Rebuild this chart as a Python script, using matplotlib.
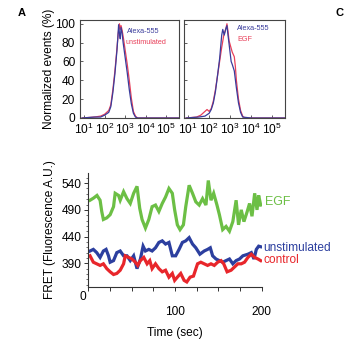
import numpy as np
import matplotlib
matplotlib.use("Agg")
import matplotlib.pyplot as plt
from matplotlib.ticker import FixedLocator, MultipleLocator, FixedFormatter

plt.rcParams['font.family'] = ['Liberation Sans', 'DejaVu Sans']
plt.rcParams['mathtext.fontset'] = 'custom'
plt.rcParams['mathtext.rm'] = 'Liberation Sans'
plt.rcParams['mathtext.it'] = 'Liberation Sans:italic'

# ---------------- Histogram data (log10 of intensity, normalized %) -------------
left_blue_log = [0.9, 1.5, 1.8, 2.0, 2.2, 2.3, 2.4, 2.5, 2.6, 2.65, 2.68, 2.72, 2.76, 2.8, 2.85, 2.9, 3.0, 3.1, 3.2, 3.3, 3.4, 3.5, 3.6, 4.0, 5.0, 5.6]
left_blue_val = [0, 1, 1, 3, 6, 12, 27, 47, 72, 88, 99, 90, 84, 96, 90, 80, 64, 48, 30, 15, 5, 1, 0, 0, 0, 0]
left_red_log = [0.9, 1.5, 1.8, 2.0, 2.2, 2.3, 2.4, 2.5, 2.6, 2.66, 2.72, 2.76, 2.8, 2.86, 2.92, 3.0, 3.1, 3.2, 3.3, 3.4, 3.5, 3.6, 4.0, 5.0, 5.6]
left_red_val = [0, 1, 2, 4, 8, 14, 30, 50, 74, 90, 100, 94, 98, 92, 84, 72, 57, 40, 21, 7, 2, 0, 0, 0, 0]

right_blue_log = [0.9, 1.5, 1.8, 2.0, 2.1, 2.2, 2.3, 2.4, 2.5, 2.6, 2.65, 2.72, 2.8, 2.85, 2.9, 2.97, 3.05, 3.1, 3.2, 3.3, 3.4, 3.5, 3.6, 4.0, 5.6]
right_blue_val = [0, 1, 2, 5, 9, 16, 28, 45, 63, 88, 94, 88, 95, 98, 88, 75, 60, 57, 50, 32, 16, 6, 1, 0, 0]
right_red_log = [0.9, 1.4, 1.6, 1.8, 1.9, 2.0, 2.1, 2.2, 2.3, 2.4, 2.5, 2.6, 2.7, 2.8, 2.85, 2.9, 2.95, 3.0, 3.1, 3.2, 3.25, 3.3, 3.4, 3.5, 3.6, 3.7, 4.0, 5.6]
right_red_val = [0, 1, 3, 7, 9, 7, 10, 18, 30, 45, 60, 75, 88, 95, 100, 92, 82, 78, 70, 65, 55, 40, 20, 8, 2, 0, 0, 0]

hist_yticks = [0, 20, 40, 60, 80, 100]
hist_xticks_exp = [1, 2, 3, 4, 5]

# ---------------- FRET time series ----------------
egf_t = [2, 6, 10, 13.6, 15.5, 17.4, 21.3, 25.2, 29.1, 31.0, 34.9, 36.8, 40.7, 44.6, 48.4, 52.3, 56.2, 59.3,
         62.0, 65.9, 69.8, 73.6, 77.5, 81.4, 85.3, 89.1, 93.0, 96.9, 99.6, 102.7, 105.8, 109.7, 112.4, 116.3,
         120.2, 124.0, 127.9, 131.8, 135.7, 138.4, 141.5, 144.6, 148.4, 151.2, 155.0, 158.9, 162.8, 166.7,
         170.5, 173.3, 176.4, 179.5, 183.3, 186.0, 188.8, 191.9, 194.6, 196.5, 198.8]
egf_v = [508, 512, 517, 508, 487, 472, 475, 481, 496, 521, 517, 508, 524, 511, 502, 521, 534, 493,
         472, 456, 472, 496, 499, 487, 502, 514, 530, 521, 490, 462, 453, 462, 496, 536,
         521, 505, 499, 511, 499, 545, 508, 521, 499, 481, 453, 459, 450, 468,
         508, 462, 490, 468, 487, 502, 478, 521, 490, 517, 499]

unst_t = [2, 5.8, 9.7, 13.6, 17.4, 20.5, 23.3, 25.2, 29.1, 32.9, 36.8, 40.7, 44.6, 48.4, 52.3, 56.2, 60.1,
          63.2, 65.9, 69.8, 73.6, 77.5, 81.4, 85.3, 89.1, 93.0, 96.9, 100.8, 104.7, 108.5, 112.4, 116.3,
          120.2, 124.0, 128.7, 133.7, 137.6, 140.7, 143.4, 147.3, 151.2, 155.0, 158.9, 162.8, 166.7, 170.5,
          174.4, 178.3, 184.1, 188.0, 191.1, 193.8, 196.5, 198.8]
unst_v = [413, 416, 410, 401, 413, 416, 404, 392, 395, 410, 413, 404, 404, 395, 404, 380, 398,
          422, 413, 416, 413, 419, 429, 432, 426, 429, 404, 404, 416, 429, 432, 438,
          426, 419, 407, 413, 416, 419, 404, 398, 395, 392, 395, 398, 389, 395,
          398, 404, 407, 410, 398, 416, 422, 421]

ctrl_t = [2, 5.8, 9.7, 13.6, 17.4, 21.3, 25.2, 29.1, 32.9, 36.8, 40.7, 42.6, 46.5, 50.4, 54.3, 57.0, 60.1,
          64.0, 67.8, 70.9, 73.6, 77.5, 81.4, 85.3, 89.1, 93.0, 96.9, 99.6, 102.7, 106.6, 110.5, 113.6,
          117.4, 121.3, 126.0, 129.8, 133.7, 137.6, 141.5, 145.3, 149.2, 153.1, 156.2, 160.1, 164.7, 168.6,
          172.5, 176.4, 180.2, 184.1, 188.0, 191.9, 195.7, 198.8]
ctrl_v = [404, 392, 389, 386, 389, 380, 374, 369, 371, 377, 389, 404, 401, 398, 392, 386, 395,
          401, 389, 395, 380, 389, 380, 374, 377, 364, 371, 358, 364, 371, 358, 355,
          364, 366, 389, 392, 389, 386, 389, 386, 392, 395, 389, 374, 377, 383,
          389, 389, 392, 401, 407, 401, 398, 395]

fret_yticks = [390, 440, 490, 540]
time_ticks = [0, 25, 50, 75, 100, 125, 150, 175, 200]
time_labels = ['', '', '', '', '100', '', '', '', '200']

# ---------------- Figure ----------------
W, H = 344, 352
fig = plt.figure(figsize=(W / 100, H / 100), dpi=100)

def px_axes(l, t, r, b):
    return fig.add_axes([l / W, 1 - b / H, (r - l) / W, (b - t) / H])

FS = 8.6
hb = '#3a3c9c'
hr = '#e8405a'

def hist_panel(ax, bl, bv, rl, rv, show_y):
    ax.plot(10 ** np.array(rl), rv, color=hr, lw=0.9)
    ax.plot(10 ** np.array(bl), bv, color=hb, lw=0.9)
    ax.set_xscale('log')
    ax.set_xlim(10 ** 0.8, 10 ** 5.62)
    ax.set_ylim(0, 104)
    ax.xaxis.set_major_locator(FixedLocator([10.0 ** e for e in hist_xticks_exp]))
    ax.xaxis.set_minor_locator(FixedLocator([]))
    ax.set_xticklabels([r'$10^{%d}$' % e for e in hist_xticks_exp])
    ax.yaxis.set_major_locator(FixedLocator(hist_yticks))
    if show_y:
        ax.set_yticklabels([str(v) for v in hist_yticks])
    else:
        ax.set_yticklabels([])
    ax.tick_params(direction='in', length=2, width=0.6, labelsize=FS, colors='#444444',
                   labelcolor='black')
    ax.tick_params(axis='x', pad=3)
    ax.tick_params(axis='y', pad=3.5)
    for s in ax.spines.values():
        s.set_linewidth(0.8)
        s.set_color('#444444')

ax1 = px_axes(80, 20, 179, 118)
hist_panel(ax1, left_blue_log, left_blue_val, left_red_log, left_red_val, True)
ax1.set_ylabel('Normalized events (%)', fontsize=FS, labelpad=0)
ax2 = px_axes(184, 20, 285, 118)
hist_panel(ax2, right_blue_log, right_blue_val, right_red_log, right_red_val, False)

fig.text(126.5 / W, 1 - 31.7 / H, 'Alexa-555', color=hb, fontsize=5.2, va='center', ha='left')
fig.text(126 / W, 1 - 42.3 / H, 'unstimulated', color=hr, fontsize=5.2, va='center', ha='left')
fig.text(237 / W, 1 - 29 / H, 'Alexa-555', color=hb, fontsize=5.2, va='center', ha='left')
fig.text(237 / W, 1 - 39.3 / H, 'EGF', color=hr, fontsize=5.2, va='center', ha='left')

# Bottom panel
green = '#6cbf45'
blue = '#2c3f9f'
red = '#e8262b'
ax3 = px_axes(88.3, 173, 261.7, 287)
ax3.plot(egf_t, egf_v, color=green, lw=2.3, solid_joinstyle='miter')
ax3.plot(unst_t, unst_v, color=blue, lw=2.3, solid_joinstyle='miter')
ax3.plot(ctrl_t, ctrl_v, color=red, lw=2.3, solid_joinstyle='miter')
ax3.set_xlim(0, 200)
ax3.set_ylim(345.6, 559)
ax3.spines['top'].set_visible(False)
ax3.spines['right'].set_visible(False)
for s in ['left', 'bottom']:
    ax3.spines[s].set_linewidth(0.8)
    ax3.spines[s].set_color('#333333')
ax3.xaxis.set_major_locator(FixedLocator(time_ticks))
ax3.xaxis.set_major_formatter(FixedFormatter(time_labels))
ax3.yaxis.set_major_locator(FixedLocator(fret_yticks))
ax3.yaxis.set_minor_locator(MultipleLocator(10))
ax3.tick_params(axis='both', which='major', direction='out', length=3, width=0.7,
                labelsize=FS, colors='#333333', labelcolor='black')
ax3.tick_params(axis='x', which='major', pad=11)
ax3.tick_params(axis='y', which='major', pad=2)
ax3.tick_params(axis='y', which='minor', direction='out', length=1.8, width=0.5, colors='#333333')
ax3.set_ylabel('FRET (Fluorescence A.U.)', fontsize=FS, labelpad=4)
ax3.set_xlabel('Time (sec)', fontsize=FS, labelpad=6)
fig.text(83 / W, 1 - 297 / H, '0', fontsize=FS, ha='center', va='center')

fig.text(265 / W, 1 - 201.7 / H, 'EGF', color=green, fontsize=9, ha='left', va='center')
fig.text(263.5 / W, 1 - 247.7 / H, 'unstimulated', color=blue, fontsize=8.6, ha='left', va='center')
fig.text(263.5 / W, 1 - 260 / H, 'control', color=red, fontsize=8.6, ha='left', va='center')

fig.text(22 / W, 1 - 13 / H, 'A', fontsize=8, fontweight='bold', ha='center', va='center')
fig.text(336 / W, 1 - 13 / H, 'C', fontsize=8, fontweight='bold', ha='left', va='center')

fig.savefig('out.png', dpi=100)
